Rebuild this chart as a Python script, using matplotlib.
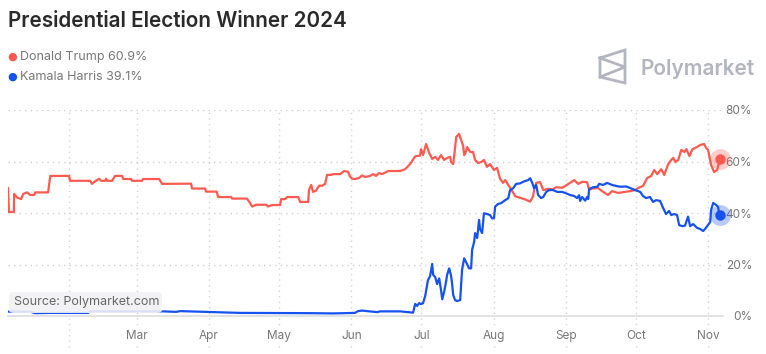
import pandas as pd
import matplotlib
matplotlib.use('Agg')
import matplotlib.pyplot as plt
from matplotlib.patches import FancyBboxPatch

plt.rcParams['font.family'] = ['Inter', 'DejaVu Sans']

# days counted from 2024-01-01, values in percent
red_days = [4.8, 5.2, 7.3, 7.4, 8.7, 10.4, 11.3, 13.0, 14.3, 16.0, 16.4, 22.0, 22.9, 31.0, 31.4,
            40.0, 40.9, 42.1, 43.9, 44.7, 46.4, 46.9, 47.3, 49.4, 50.7, 53.7, 54.2, 57.6, 58.0,
            62.3, 62.7, 69.6, 70.9, 83.3, 83.7, 89.3, 89.7, 94.3, 94.9, 100.5, 100.9, 107.2,
            108.2, 109.5, 111.2, 115.5, 116.3, 118.0, 121.5, 121.9, 123.6, 124.5, 129.2, 130.1,
            133.5, 133.9, 134.8, 135.6, 136.9, 138.2, 139.5, 140.8, 141.6, 143.4, 144.2, 147.2,
            148.9, 150.6, 151.5, 152.4, 153.6, 155.4, 156.6, 157.9, 160.1, 161.4, 162.6, 163.9,
            165.2, 167.8, 172.9, 175.1, 177.2, 179.4, 181.5, 181.9, 182.8, 184.1, 185.4, 186.7,
            188.0, 189.2, 190.5, 191.8, 193.1, 194.4, 194.8, 195.7, 196.1, 197.0, 198.2, 199.1,
            200.0, 200.4, 200.8, 201.7, 203.0, 204.2, 205.1, 206.4, 207.7, 208.9, 210.2, 211.5,
            213.2, 214.5, 215.8, 217.1, 218.0, 219.3, 220.5, 222.3, 226.5, 228.7, 230.0, 230.4,
            231.3, 233.0, 234.3, 236.4, 238.5, 239.8, 242.4, 243.7, 245.8, 247.6, 249.3, 251.0,
            253.1, 254.0, 255.3, 257.8, 260.0, 262.1, 263.8, 266.4, 269.4, 271.6, 273.7, 275.0,
            277.1, 278.9, 280.6, 281.9, 283.2, 284.9, 286.2, 287.9, 289.2, 290.1, 290.9, 292.2,
            293.5, 294.8, 295.7, 297.0, 298.3, 299.4, 301.6, 303.3, 304.2, 305.0, 306.3, 307.6,
            308.9, 309.7, 309.9]
red_vals = [49.7, 40.4, 40.4, 47.4, 46.0, 45.4, 47.4, 48.0, 47.0, 47.0, 48.0, 48.0, 54.4, 54.4, 52.5,
            52.5, 51.3, 52.3, 53.3, 52.5, 52.5, 53.3, 52.5, 52.5, 54.4, 54.4, 53.2, 53.2, 52.5,
            52.5, 53.2, 53.2, 51.3, 51.4, 49.5, 49.5, 48.3, 48.3, 46.2, 46.2, 45.6, 45.6,
            44.4, 42.5, 43.2, 43.2, 42.5, 43.1, 43.1, 45.4, 45.4, 46.2, 46.2, 44.3,
            44.3, 49.0, 50.9, 48.2, 48.7, 50.6, 50.6, 51.3, 54.8, 54.8, 55.1, 55.1,
            56.3, 56.0, 54.1, 53.3, 53.2, 53.6, 54.6, 54.0, 54.4, 55.1, 54.4, 55.5,
            55.1, 56.3, 56.3, 57.0, 59.0, 62.0, 62.3, 64.8, 62.5, 66.8, 63.3, 61.0,
            61.8, 60.6, 62.5, 60.6, 61.4, 61.8, 59.8, 59.0, 62.0, 69.5, 70.7, 68.3,
            66.0, 62.5, 62.9, 65.6, 63.7, 63.7, 60.6, 59.4, 59.8, 60.6, 57.9, 59.0,
            56.7, 57.5, 53.3, 51.7, 52.8, 50.9, 49.3, 46.5, 45.3, 44.4, 46.6, 48.9,
            51.7, 52.0, 48.9, 49.4, 49.2, 50.0, 49.8, 50.5, 51.7, 52.8, 51.3, 52.1,
            52.0, 49.0, 49.5, 49.7, 48.2, 47.0, 48.5, 47.8, 48.2, 48.5, 48.9, 49.7,
            50.5, 53.6, 54.4, 56.7, 55.1, 57.0, 54.8, 59.0, 60.6, 61.4, 59.8, 60.6,
            64.5, 63.7, 64.8, 62.1, 64.8, 65.2, 66.4, 66.8, 65.2, 64.5, 58.6, 55.9,
            56.7, 59.8, 60.9]

blue_days = [4.8, 14.3, 16.4, 22.9, 39.1, 40.0, 71.3, 76.9, 78.6, 104.3, 134.3, 144.2, 153.6,
             154.9, 156.6, 163.1, 164.4, 172.9, 177.2, 178.5, 179.4, 180.2, 181.1, 181.9, 182.8,
             183.7, 184.9, 185.8, 186.7, 187.1, 188.0, 188.8, 189.7, 190.5, 191.0, 191.8, 192.7,
             193.1, 194.0, 194.8, 195.2, 195.7, 196.5, 197.4, 198.7, 199.5, 200.4, 201.2, 202.5,
             203.4, 203.8, 204.7, 205.1, 206.0, 206.8, 207.2, 208.1, 208.9, 210.2, 211.5, 212.4,
             213.2, 213.7, 214.9, 216.2, 218.0, 219.3, 220.1, 221.4, 222.7, 224.4, 226.1, 227.9,
             228.7, 229.6, 230.4, 231.3, 232.1, 233.4, 234.3, 235.6, 236.8, 238.5, 240.3, 242.4,
             243.7, 245.8, 247.6, 248.8, 249.7, 250.1, 251.0, 252.3, 253.1, 253.6, 254.0, 255.7,
             257.5, 258.3, 260.0, 261.7, 263.8, 265.6, 267.3, 269.9, 271.6, 273.7, 275.9, 277.1,
             278.4, 280.1, 281.4, 282.7, 284.4, 285.7, 287.0, 288.3, 289.2, 290.4, 291.7, 292.6,
             293.9, 295.1, 296.4, 297.3, 298.6, 300.3, 301.6, 302.9, 303.8, 304.6, 305.9, 306.3,
             307.2, 308.5, 309.3, 309.9]
blue_vals = [1.7, 1.7, 1.1, 1.2, 1.2, 1.8, 1.8, 1.6, 1.9, 1.2, 1.1, 1.0, 1.2,
             1.9, 2.1, 1.5, 1.8, 1.8, 1.4, 1.3, 4.7, 3.9, 5.0, 4.6, 5.0,
             7.8, 14.0, 15.5, 20.2, 16.0, 15.1, 12.4, 14.6, 10.0, 6.5, 9.3, 13.6,
             16.0, 18.5, 15.6, 12.8, 8.2, 6.2, 5.8, 6.2, 17.9, 22.4, 21.0, 18.5,
             18.5, 25.6, 28.9, 32.2, 30.3, 37.3, 33.8, 32.2, 39.9, 39.6, 39.2, 37.9,
             38.0, 42.5, 43.5, 43.8, 45.0, 45.7, 48.9, 49.6, 51.3, 51.5, 52.3, 52.8,
             53.5, 51.7, 49.6, 50.9, 47.0, 45.8, 46.2, 48.2, 48.9, 48.9, 48.2, 48.2,
             47.8, 47.0, 46.6, 45.8, 46.9, 44.7, 46.2, 44.8, 46.2, 45.4, 49.3, 50.0,
             50.2, 51.3, 50.9, 51.7, 50.9, 50.5, 50.2, 50.3, 49.7, 48.9, 48.2, 46.6,
             45.8, 46.2, 44.3, 45.0, 44.7, 42.0, 39.6, 40.8, 39.2, 39.6, 39.2, 35.3,
             34.9, 35.1, 38.6, 34.9, 35.7, 34.2, 33.8, 33.0, 33.9, 34.9, 36.5, 41.2,
             43.9, 43.1, 42.3, 39.1]

y_ticks = [0, 20, 40, 60, 80]
title = 'Presidential Election Winner 2024'
names = ['Donald Trump', 'Kamala Harris']
red = '#ff5a50'
blue = '#1652f0'

start = pd.Timestamp('2024-01-01')
red_x = start + pd.to_timedelta(red_days, unit='D')
blue_x = start + pd.to_timedelta(blue_days, unit='D')

fig = plt.figure(figsize=(7.66, 3.54), dpi=100)
ax = fig.add_axes([8/766, 1 - 316/354, 715/766, 206/354])

ax.plot(red_x, red_vals, color=red, lw=1.6, zorder=3)
ax.plot(blue_x, blue_vals, color=blue, lw=1.6, zorder=3)

# end dots with halo
for xs, vs, c in [(red_x, red_vals, red), (blue_x, blue_vals, blue)]:
    ax.plot(xs[-1], vs[-1], 'o', ms=15, color=c, alpha=0.3, mec='none', zorder=4, clip_on=False)
    ax.plot(xs[-1], vs[-1], 'o', ms=7.5, color=c, mec='none', zorder=5, clip_on=False)

ax.set_xlim(start + pd.Timedelta(days=4.8), start + pd.Timedelta(days=311.4))
ax.set_ylim(0, 80)

for s in ['top', 'left', 'right']:
    ax.spines[s].set_visible(False)
ax.spines['bottom'].set_color('#dddddd')
ax.spines['bottom'].set_linewidth(1.2)

# horizontal dotted grid
for v in y_ticks[1:]:
    ax.axhline(v, color='#cfcfcf', lw=1, ls=(0, (1, 3)), zorder=1)

# month lines, drawn past the axis line
months = pd.date_range('2024-02-01', '2024-11-01', freq='MS')
for m in months:
    ax.axvline(m, ymin=-0.15, ymax=1, color='#d4d4d4', lw=1, ls=(0, (1, 3)), zorder=1, clip_on=False)

ax.set_xticks(months)
ax.set_xticklabels(['' if m.month == 2 else m.strftime('%b') for m in months])
ax.tick_params(axis='x', length=0, pad=10, labelsize=8.5, labelcolor='#777777')
for lbl in ax.get_xticklabels():
    lbl.set_bbox(dict(facecolor='white', edgecolor='none', pad=1))

ax.yaxis.tick_right()
ax.set_yticks(y_ticks)
ax.set_yticklabels([f'{v}%' for v in y_ticks])
ax.tick_params(axis='y', length=0, pad=21, labelsize=8.5, labelcolor='#777777')
for lbl in ax.get_yticklabels():
    lbl.set_horizontalalignment('right')

# title and legend
fig.text(8/766, 1 - 27/354, title, fontsize=14.9, fontweight='semibold', color='#2a2a2a', va='baseline')
for i, (n, v, c) in enumerate(zip(names, [red_vals[-1], blue_vals[-1]], [red, blue])):
    yy = 1 - (57 + 20*i)/354
    fig.text(12/766, yy, '\u25CF', fontsize=8, color=c, ha='center', va='center', family='DejaVu Sans')
    fig.text(20/766, yy, f'{n} {v}%', fontsize=9, color='#777777', va='center')

# Polymarket logo
lx = [600, 625, 625, 600, 600]
ly = [58, 50, 83, 77, 58]
fig.add_artist(plt.Line2D([x/766 for x in lx], [1 - y/354 for y in ly], color='#b3b5c1', lw=2,
                          solid_joinstyle='miter'))
ix = [600, 625, 600]
iy = [58, 67, 77]
fig.add_artist(plt.Line2D([x/766 for x in ix], [1 - y/354 for y in iy], color='#b3b5c1', lw=2))
fig.text(641/766, 1 - 75/354, 'Polymarket', fontsize=15, fontweight='semibold', color='#b3b5c1',
         va='baseline')

# source box
box = FancyBboxPatch((9/766, 1 - 313/354), 153/766, 21/354, boxstyle='round,pad=0,rounding_size=0.008',
                     transform=fig.transFigure, facecolor='#f1f1f3', edgecolor='none', alpha=0.9, zorder=6)
fig.add_artist(box)
fig.text(14/766, 1 - 302/354, 'Source: Polymarket.com', fontsize=9, color='#666666', va='center', zorder=7)

fig.savefig('out.png', dpi=100)
